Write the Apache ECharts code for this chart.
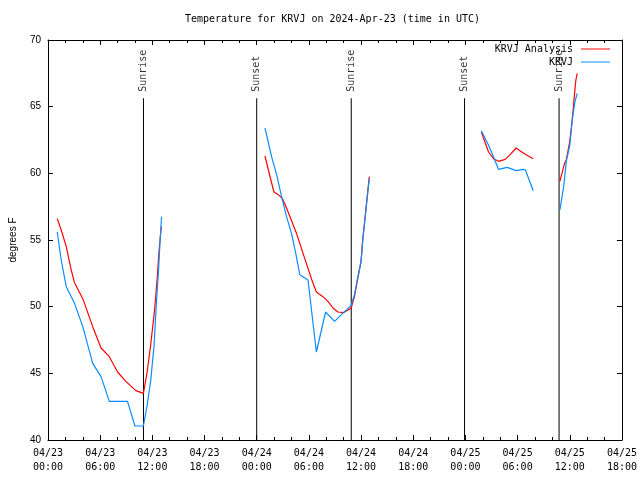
<!DOCTYPE html>
<html><head><meta charset="utf-8">
<script src="https://cdn.jsdelivr.net/npm/echarts@6/dist/echarts.min.js"></script>
<style>html,body{margin:0;padding:0;background:#fff}#c{width:640px;height:480px}</style>
</head><body><div id="c"></div>
<script>
// Hours since 04/23 00:00 UTC; null marks a gap in the record
const analysisHours = [1.06,1.52,2.1,2.67,3.05,4.0,5.14,6.1,7.05,8.0,8.95,10.1,10.97,11.4,11.8,12.2,12.37,12.57,12.76,13.03,
  null,
  24.95,25.34,25.98,26.48,26.97,27.43,28.57,29.71,30.29,30.86,31.62,32.19,32.77,33.34,33.98,34.86,35.24,35.62,36.0,36.2,36.57,36.76,36.95,
  null,
  49.83,50.66,51.23,51.8,52.57,53.14,53.83,54.48,55.23,55.8,
  null,
  58.86,59.4,59.6,60.0,60.3,60.5,60.7,60.86];
const analysisTemps = [56.6,55.75,54.5,52.75,51.8,50.6,48.5,46.9,46.25,45.1,44.4,43.7,43.5,45.1,47.1,49.4,50.6,52.25,54.1,56.0,
  null,
  61.3,60.25,58.6,58.4,58.1,57.4,55.5,53.25,52.1,51.1,50.75,50.4,49.9,49.6,49.55,49.9,50.75,52.1,53.4,55.1,57.4,58.6,59.75,
  null,
  63.1,61.6,61.1,60.9,61.05,61.4,61.9,61.6,61.3,61.1,
  null,
  59.4,60.75,61.0,62.4,64.1,65.6,67.0,67.5];
const obsHours = [1.06,1.52,2.1,3.05,4.0,5.14,6.1,7.05,9.14,10.0,10.97,11.4,11.8,12.2,12.45,12.7,12.9,13.06,
  null,
  24.95,25.71,26.29,26.86,27.43,28.0,28.49,28.95,29.9,30.86,31.92,32.95,33.98,34.86,35.24,35.62,36.0,36.2,36.57,36.76,36.95,
  null,
  49.83,50.66,51.23,51.8,52.8,53.83,54.66,54.9,55.8,
  null,
  58.86,59.3,59.6,60.0,60.3,60.6,60.86];
const obsTemps = [55.6,53.5,51.5,50.25,48.5,45.75,44.75,42.9,42.9,41.05,41.05,42.6,44.4,47.1,50.1,52.6,55.1,56.75,
  null,
  63.4,61.25,59.9,58.25,56.75,55.5,54.0,52.4,52.0,46.6,49.6,48.9,49.55,50.1,50.9,52.2,53.4,55.0,57.3,58.5,59.6,
  null,
  63.2,62.1,61.25,60.3,60.45,60.2,60.3,60.25,58.7,
  null,
  57.25,59.0,60.9,62.1,64.1,65.4,66.0];
const sunHours = [10.98, 24.0, 34.87, 47.9, 58.77];
const sunNames = ['Sunrise','Sunset','Sunrise','Sunset','Sunrise'];
const sunLineTop = 65.63;
const yMin = 40, yMax = 70, yStep = 5;
const xMin = 0, xMax = 66, xStep = 6;
const monthLabel = '04', firstDay = 23;
const seriesNames = ['KRVJ Analysis', 'KRVJ'];

const MONO = 'DejaVu Sans Mono';
function zip(xs, ys) { return xs.map((x, i) => x === null ? [NaN, NaN] : [x, ys[i]]); }
const sunLineData = [];
sunHours.forEach(h => { sunLineData.push([h, yMin], [h, sunLineTop], [NaN, NaN]); });

function xLabel(v) {
  const d = firstDay + Math.floor(v / 24);
  const hh = v % 24;
  return monthLabel + '/' + d + '\n' + String(hh).padStart(2, '0') + ':00';
}
const tickBase = { show: true, inside: true, length: 5, lineStyle: { color: '#000' } };
const minorBase = { show: true, splitNumber: 3, length: 3, lineStyle: { color: '#000' } };
const lineBase = { show: true, onZero: false, lineStyle: { color: '#000', width: 1 } };
const legendBase = { right: 30, orient: 'vertical', align: 'right', icon: 'rect', itemWidth: 29, itemHeight: 1, padding: 0,
  textStyle: { fontFamily: MONO, fontSize: 10, color: '#000', padding: [0, 3, 0, 0] } };

const chart = echarts.init(document.getElementById('c'), null, { renderer: 'canvas' });
chart.setOption({
  animation: false,
  backgroundColor: '#fff',
  title: {
    text: 'Temperature for KRVJ on 2024-Apr-23 (time in UTC)',
    left: 185, top: 14, padding: 0,
    textStyle: { fontFamily: MONO, fontSize: 10, fontWeight: 'normal', color: '#000' }
  },
  legend: [
    Object.assign({ data: [seriesNames[0]], top: 44 }, legendBase),
    Object.assign({ data: [seriesNames[1]], top: 57 }, legendBase)
  ],
  grid: { left: 46, right: 18, top: 40, bottom: 40, containLabel: false },
  xAxis: [
    { type: 'value', min: xMin, max: xMax, interval: xStep, position: 'bottom',
      axisLine: lineBase, axisTick: tickBase, minorTick: minorBase,
      splitLine: { show: false }, minorSplitLine: { show: false },
      axisLabel: { formatter: xLabel, fontFamily: MONO, fontSize: 10, color: '#000', lineHeight: 14, margin: 6 } },
    { type: 'value', min: xMin, max: xMax, interval: xStep, position: 'top',
      axisLine: lineBase, axisTick: tickBase, minorTick: minorBase,
      splitLine: { show: false }, minorSplitLine: { show: false }, axisLabel: { show: false } }
  ],
  yAxis: [
    { type: 'value', min: yMin, max: yMax, interval: yStep, position: 'left',
      name: 'degrees F', nameLocation: 'middle', nameGap: 30, nameRotate: 90,
      nameTextStyle: { fontFamily: 'Liberation Sans', fontSize: 10, color: '#000' },
      axisLine: lineBase, axisTick: tickBase, splitLine: { show: false },
      axisLabel: { fontFamily: 'Liberation Sans', fontSize: 10, color: '#000', margin: 7 } },
    { type: 'value', min: yMin, max: yMax, interval: yStep, position: 'right',
      axisLine: lineBase, axisTick: tickBase, splitLine: { show: false }, axisLabel: { show: false } }
  ],
  series: [
    { name: 'sun', type: 'line', data: sunLineData, symbol: 'none', silent: true,
      lineStyle: { color: '#000', width: 1 }, connectNulls: false },
    { name: 'sunLabels', type: 'scatter', symbolSize: 1, itemStyle: { color: 'rgba(0,0,0,0)' }, silent: true,
      data: sunHours.map((h, i) => ({ value: [h, sunLineTop], name: sunNames[i] })),
      label: { show: true, formatter: '{b}', position: 'top', distance: 6, rotate: 90,
        align: 'left', verticalAlign: 'middle', fontFamily: MONO, fontSize: 10, color: '#000' } },
    { name: seriesNames[0], type: 'line', data: zip(analysisHours, analysisTemps), symbol: 'none',
      connectNulls: false, itemStyle: { color: '#ff0000' }, lineStyle: { color: '#ff0000', width: 1.2 } },
    { name: seriesNames[1], type: 'line', data: zip(obsHours, obsTemps), symbol: 'none',
      connectNulls: false, itemStyle: { color: '#0a8cff' }, lineStyle: { color: '#0a8cff', width: 1.2 } }
  ]
});
</script></body></html>
